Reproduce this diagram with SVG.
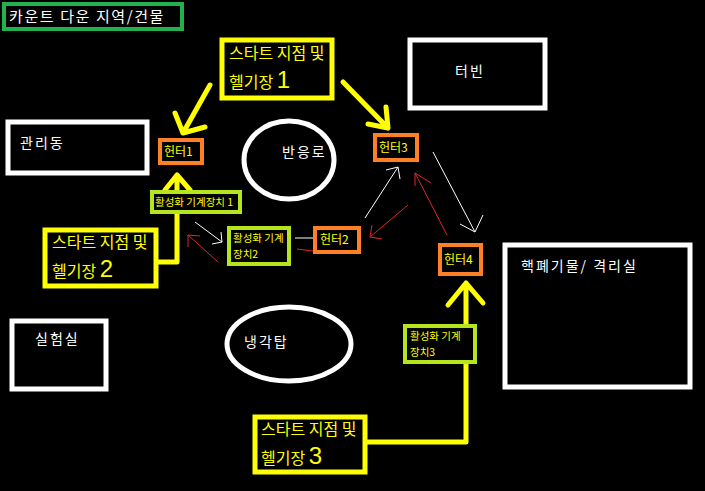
<svg xmlns="http://www.w3.org/2000/svg" width="705" height="491" viewBox="0 0 705 491">
<style>
text{font-family:"Noto Sans CJK KR","Noto Sans",sans-serif}
.wb{fill:none;stroke:#fff;stroke-width:5}
.yb{fill:#000;stroke:#ffff00;stroke-width:5}
.ob{fill:#000;stroke:#ff7f27;stroke-width:4}
.gb{fill:#000;stroke:#b5e61d;stroke-width:4}
.wt{fill:#fff;font-size:14px;letter-spacing:2px}
.yt{fill:#ffff00;font-size:16px}
.big{font-size:24px;font-family:"Liberation Sans",sans-serif}
.ot{fill:#ffff00;font-size:12px}
.gt{fill:#ffff00;font-size:10.5px}
.yl{fill:none;stroke:#ffff00;stroke-width:5;stroke-linecap:round;stroke-linejoin:round}
.wl{fill:none;stroke:#fff;stroke-width:1}
.rl{fill:none;stroke:#e02828;stroke-width:1}
</style>
<rect width="705" height="491" fill="#000"/>
<g id="title"><rect x="4" y="4" width="178" height="25" fill="#000" stroke="#22b14c" stroke-width="4"/><text x="9" y="22" fill="#fff" font-size="15" letter-spacing="1.6">카운트 다운 지역/건물</text></g>
<g id="connectors">
<path class="yl" d="M210 85 L183 133 M175 113 L183 133 L205 127"/>
<path class="yl" d="M343 82 L388 128 M368 124 L388 128 L386 107"/>
<path class="yl" d="M158 262 L177 262 L177 175 M165 190 L177 175 L190 190"/>
<path class="yl" d="M367 442 L466 442 L466 283 M448 305 L466 283 L483 303"/>
<path class="wl" d="M195 222 L222 242 M212 244 L222 242 L221 232"/>
<path class="rl" d="M218 262 L188 235 M188 247 L188 235 L200 236"/>
<path class="wl" d="M295 238 L313 238"/>
<path class="rl" d="M297 249 L313 251"/>
<path class="wl" d="M365 218 L398 167 M386 170 L398 167 L400 179"/>
<path class="rl" d="M408 205 L370 237 M372 225 L370 237 L382 239"/>
<path class="rl" d="M447 235 L415 173 M415 186 L415 173 L431 183"/>
<path class="wl" d="M433 152 L475 232 M460 224 L475 232 L483 215"/>
</g>
<g id="start1"><rect class="yb" x="222" y="40" width="110" height="58"/><text class="yt" x="229" y="59">스타트 지점 및</text><text class="yt" x="229" y="88">헬기장 <tspan class="big">1</tspan></text></g>
<g id="start2"><rect class="yb" x="45" y="230" width="111" height="56"/><text class="yt" x="52" y="248">스타트 지점 및</text><text class="yt" x="52" y="277">헬기장 <tspan class="big">2</tspan></text></g>
<g id="start3"><rect class="yb" x="255" y="417" width="110" height="55"/><text class="yt" x="261" y="435">스타트 지점 및</text><text class="yt" x="261" y="464">헬기장 <tspan class="big">3</tspan></text></g>
<g id="hunter1"><rect class="ob" x="160" y="140" width="42" height="23"/><text class="ot" x="164" y="156">헌터1</text></g>
<g id="hunter2"><rect class="ob" x="315" y="228" width="44" height="24"/><text class="ot" x="320" y="244">헌터2</text></g>
<g id="hunter3"><rect class="ob" x="375" y="135" width="42" height="25"/><text class="ot" x="379" y="152">헌터3</text></g>
<g id="hunter4"><rect class="ob" x="440" y="245" width="41" height="29"/><text class="ot" x="444" y="264">헌터4</text></g>
<g id="device1"><rect class="gb" x="152" y="192" width="88" height="20"/><text class="gt" x="155" y="206">활성화 기계장치 1</text></g>
<g id="device2"><rect class="gb" x="229" y="228" width="60" height="36"/><text class="gt" x="233" y="242">활성화 기계</text><text class="gt" x="233" y="258">장치2</text></g>
<g id="device3"><rect class="gb" x="405" y="326" width="70" height="36"/><text class="gt" x="410" y="340">활성화 기계</text><text class="gt" x="410" y="356">장치3</text></g>
<g id="reactor"><ellipse class="wb" cx="289" cy="160" rx="45" ry="39"/><text class="wt" x="282" y="157">반응로</text></g>
<g id="cooling"><ellipse class="wb" cx="289" cy="344" rx="62" ry="37"/><text class="wt" x="244" y="347">냉각탑</text></g>
<g id="turbine"><rect class="wb" x="410" y="40" width="135" height="68"/><text class="wt" x="455" y="76">터빈</text></g>
<g id="admin"><rect class="wb" x="8" y="122" width="139" height="51"/><text class="wt" x="20" y="148">관리동</text></g>
<g id="lab"><rect class="wb" x="12" y="321" width="94" height="68"/><text class="wt" x="35" y="344">실험실</text></g>
<g id="waste"><rect class="wb" x="505" y="245" width="185" height="142"/><text class="wt" x="521" y="271">핵폐기물/ 격리실</text></g>
</svg>
